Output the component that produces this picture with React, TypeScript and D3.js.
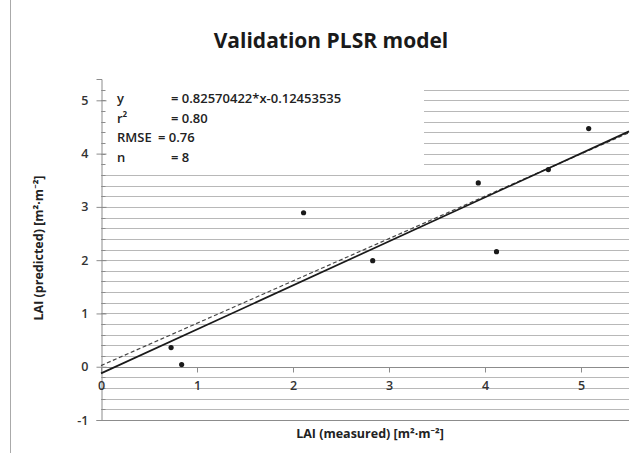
import React, { useEffect, useRef } from "react";
import * as d3 from "d3";

// measured vs predicted LAI
const measured = [0.73, 0.84, 2.11, 2.83, 3.93, 4.12, 4.66, 5.08];
const predicted = [0.36, 0.04, 2.89, 1.99, 3.45, 2.16, 3.70, 4.47];

const fitSlope = 0.82570422;
const fitIntercept = -0.12453535;
// second (dashed) trend line, estimated
const dashSlope = 0.795;
const dashIntercept = 0.02;

const xTicks = [0, 1, 2, 3, 4, 5];
const yTicks = [-1, 0, 1, 2, 3, 4, 5];

const statLabels = ["y", "r²", "RMSE", "n"];
const statValues = ["= 0.82570422*x-0.12453535", "= 0.80", "= 0.76", "= 8"];

const W = 640, H = 453;
const margin = { left: 101, top: 79, right: 11, bottom: 33 };
const FONT = "'Open Sans', 'Noto Sans', sans-serif";

export default function App() {
	const ref = useRef<SVGSVGElement>(null);

	useEffect(() => {
		const svg = d3.select(ref.current);
		svg.selectAll("*").remove();

		const x = d3.scaleLinear().domain([0, 5.5]).range([margin.left, W - margin.right]);
		const y = d3.scaleLinear().domain([-1, 5.4]).range([H - margin.bottom, margin.top]);

		svg.append("rect").attr("width", W).attr("height", H).attr("fill", "#fff");
		svg.append("line").attr("x1", 10.5).attr("x2", 10.5).attr("y1", 0).attr("y2", H)
			.attr("stroke", "#aaa");

		// horizontal grid every 0.2
		const grid = d3.range(-4, 27).map(i => i * 0.2);
		svg.append("g").selectAll("line").data(grid).enter().append("line")
			.attr("x1", x(0)).attr("x2", x(5.5))
			.attr("y1", d => Math.round(y(d)) + 0.5).attr("y2", d => Math.round(y(d)) + 0.5)
			.attr("stroke", "#b8b8b8");

		// white box behind the statistics
		svg.append("rect").attr("x", x(0) + 1).attr("y", margin.top)
			.attr("width", 322).attr("height", 93).attr("fill", "#fff");

		// bottom border and left axis
		svg.append("line").attr("x1", x(0)).attr("x2", x(5.5))
			.attr("y1", Math.round(y(-1)) + 0.5).attr("y2", Math.round(y(-1)) + 0.5)
			.attr("stroke", "#8c8c8c");

		const yAxis = d3.axisLeft(y).tickValues(yTicks).tickSize(5).tickPadding(8)
			.tickFormat(d => String(d));
		const ga = svg.append("g").attr("transform", `translate(${Math.round(x(0)) + 0.5},0)`).call(yAxis);
		ga.select(".domain").attr("stroke", "#8c8c8c");
		ga.selectAll(".tick line").attr("stroke", "#8c8c8c").attr("x2", 5).attr("x1", -5);
		ga.selectAll("text").attr("font-family", FONT).attr("font-size", 12.5).attr("font-weight", 600).attr("fill", "#333");
		// minor ticks on the right side
		svg.append("g").selectAll("line").data(grid).enter().append("line")
			.attr("x1", Math.round(x(0)) + 0.5).attr("x2", Math.round(x(0)) + 4.5)
			.attr("y1", d => Math.round(y(d)) + 0.5).attr("y2", d => Math.round(y(d)) + 0.5)
			.attr("stroke", "#8c8c8c");

		const xAxis = d3.axisBottom(x).tickValues(xTicks).tickSize(5).tickPadding(9)
			.tickFormat(d => String(d));
		const gx = svg.append("g").attr("transform", `translate(0,${Math.round(y(0)) + 0.5})`).call(xAxis);
		gx.select(".domain").attr("stroke", "#8c8c8c").attr("d", `M${x(0)},0H${x(5.5)}`);
		gx.selectAll(".tick line").attr("stroke", "#8c8c8c");
		gx.selectAll("text").attr("font-family", FONT).attr("font-size", 12.5).attr("font-weight", 600).attr("fill", "#333");

		// trend lines
		svg.append("path")
			.attr("d", d3.line()([[x(0), y(dashIntercept)], [x(5.5), y(dashIntercept + dashSlope * 5.5)]]))
			.attr("stroke", "#444").attr("stroke-width", 1.2).attr("stroke-dasharray", "4,2.5").attr("fill", "none");
		svg.append("path")
			.attr("d", d3.line()([[x(0), y(fitIntercept)], [x(5.5), y(fitIntercept + fitSlope * 5.5)]]))
			.attr("stroke", "#1a1a1a").attr("stroke-width", 1.7).attr("fill", "none");

		svg.append("g").selectAll("circle").data(measured).enter().append("circle")
			.attr("cx", d => x(d)).attr("cy", (d, i) => y(predicted[i]))
			.attr("r", 2.6).attr("fill", "#1a1a1a");

		// statistics text
		const st = svg.append("g").attr("font-family", FONT).attr("font-size", 13).attr("font-weight", 600).attr("fill", "#222");
		st.selectAll(".lab").data(statLabels).enter().append("text")
			.attr("x", 117).attr("y", (d, i) => 103 + i * 19.5).text(d => d);
		const valX = [171, 171, 158, 171];
		st.selectAll(".val").data(statValues).enter().append("text")
			.attr("x", (d, i) => valX[i]).attr("y", (d, i) => 103 + i * 19.5).text(d => d);

		svg.append("text").attr("x", 331).attr("y", 48).attr("text-anchor", "middle")
			.attr("font-family", FONT).attr("font-size", 21).attr("font-weight", "bold").attr("fill", "#1a1a1a")
			.text("Validation PLSR model");

		svg.append("text").attr("x", 370).attr("y", 438).attr("text-anchor", "middle")
			.attr("font-family", FONT).attr("font-size", 12.5).attr("font-weight", "bold").attr("fill", "#222")
			.text("LAI (measured) [m²·m⁻²]");

		svg.append("text").attr("transform", "translate(43,248) rotate(-90)").attr("text-anchor", "middle")
			.attr("font-family", FONT).attr("font-size", 12.5).attr("font-weight", "bold").attr("fill", "#222")
			.text("LAI (predicted)  [m²·m⁻²]");
	}, []);

	return (
		<svg ref={ref} width={W} height={H} style={{ position: "absolute", left: 0, top: 0, display: "block" }} />
	);
}
